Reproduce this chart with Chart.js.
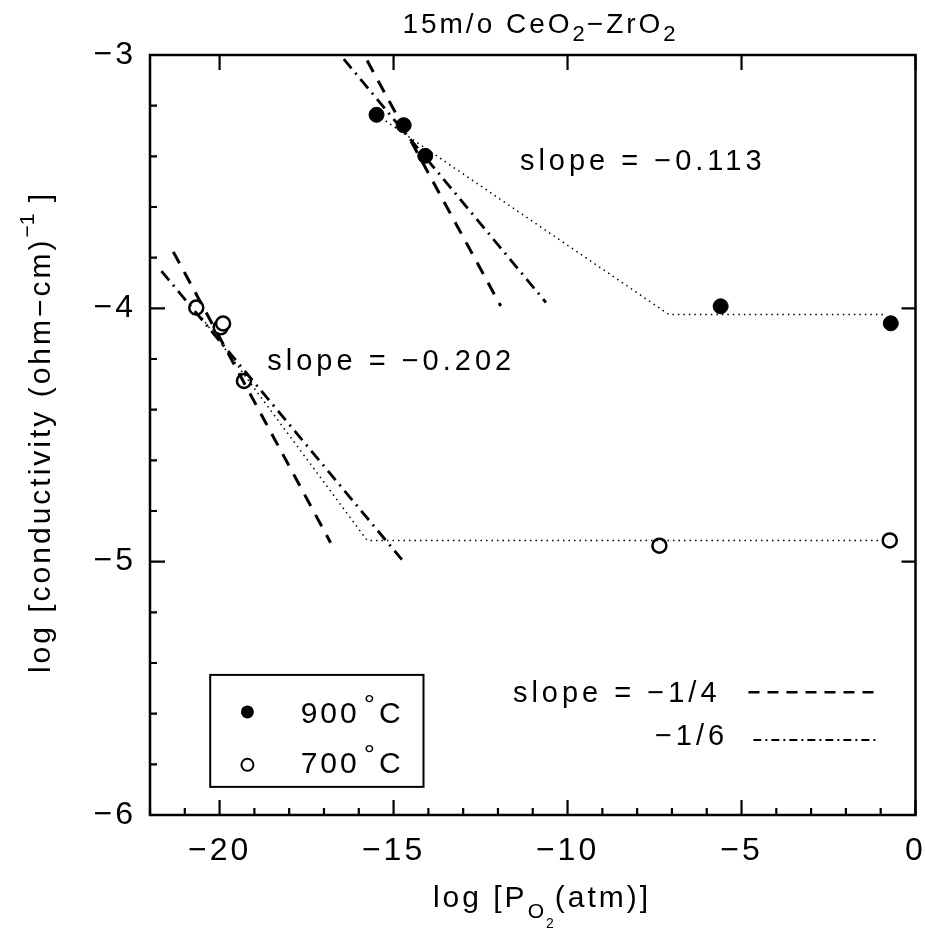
<!DOCTYPE html>
<html>
<head>
<meta charset="utf-8">
<script src="https://cdn.jsdelivr.net/npm/chart.js@4.4.1/dist/chart.umd.min.js"></script>
<style>
  body { margin: 0; background: #fff; }
  canvas { display: block; }
</style>
</head>
<body>
<canvas id="chart" width="925" height="932"></canvas>
<script>
// ---------- DATA ----------
// log P(O2) [atm] and log conductivity
const pO2_900 = [-15.49, -14.71, -14.09, -5.6, -0.71];
const sigma_900 = [-3.236, -3.277, -3.398, -3.992, -4.059];

const pO2_700 = [-20.67, -19.97, -19.9, -19.3, -7.36, -0.74];
const sigma_700 = [-3.997, -4.075, -4.06, -4.287, -4.937, -4.916];

// dotted fitted lines (slope -0.113 / -0.202, then plateau)
const fit900X = [-15.49, -7.09, -0.86];
const fit900Y = [-3.236, -4.024, -4.024];
const fit700X = [-20.6, -15.76, -0.8];
const fit700Y = [-4.02, -4.916, -4.916];

// reference slopes -1/4 (dashed) and -1/6 (dash-dot)
const quarter900X = [-15.76, -11.92];
const quarter900Y = [-3.022, -3.991];
const sixth900X = [-16.43, -10.62];
const sixth900Y = [-3.016, -3.977];
const quarter700X = [-21.33, -16.81];
const quarter700Y = [-3.777, -4.925];
const sixth700X = [-21.67, -14.76];
const sixth700Y = [-3.853, -4.992];

// key sample lines
const keyQuarterX = [-4.8, -1.14];
const keyQuarterY = [-5.515, -5.515];
const keySixthX = [-4.66, -1.14];
const keySixthY = [-5.704, -5.704];

const xMin = -22, xMax = 0;
const yMin = -6, yMax = -3;

const FONT = "'Liberation Sans', 'DejaVu Sans', sans-serif";

function pts(xs, ys) {
    return xs.map((x, i) => ({ x: x, y: ys[i] }));
}

function lineSet(xs, ys, dash, width) {
    return {
        data: pts(xs, ys),
        showLine: true,
        pointRadius: 0,
        borderColor: "#000",
        borderWidth: width,
        borderDash: dash,
        fill: false
    };
}

function minus(v) {
    return v < 0 ? "\u2212" + Math.abs(v) : String(v);
}

// draw a run of text parts (sub/superscripts) starting at x, baseline y
function richWidth(ctx, parts, base) {
    let w = 0;
    parts.forEach(p => {
        ctx.font = (p.size || base) + "px " + FONT;
        ctx.letterSpacing = (p.ls !== undefined ? p.ls : 2) + "px";
        w += ctx.measureText(p.t).width + (p.gap || 0);
    });
    return w;
}

function drawRich(ctx, parts, x, y, base, align) {
    let cx = x;
    if (align === "center") cx = x - richWidth(ctx, parts, base) / 2;
    parts.forEach(p => {
        ctx.font = (p.size || base) + "px " + FONT;
        ctx.letterSpacing = (p.ls !== undefined ? p.ls : 2) + "px";
        ctx.fillText(p.t, cx + (p.gap || 0), y + (p.dy || 0));
        cx += ctx.measureText(p.t).width + (p.gap || 0);
    });
}

// ---------- FRAME, INWARD TICKS, TEXT ----------
const framePlugin = {
    id: "frame",
    beforeDraw(chart) {
        // wider letter spacing for the tick labels, like the plotter font
        chart.ctx.letterSpacing = "3px";
    },
    afterDraw(chart) {
        const ctx = chart.ctx;
        const a = chart.chartArea;
        const xs = chart.scales.x;
        const ys = chart.scales.y;
        const px = v => xs.getPixelForValue(v);
        const py = v => ys.getPixelForValue(v);

        ctx.save();
        ctx.strokeStyle = "#000";
        ctx.fillStyle = "#000";
        ctx.lineWidth = 2.5;
        ctx.strokeRect(a.left, a.top, a.right - a.left, a.bottom - a.top);

        ctx.lineWidth = 2.2;
        ctx.beginPath();
        xs.ticks.forEach(t => {
            const x = px(t.value);
            const major = Math.abs(t.value % 5) < 1e-6;
            ctx.moveTo(x, a.bottom);
            ctx.lineTo(x, a.bottom - (major ? 15 : 7));
            if (major) {
                ctx.moveTo(x, a.top);
                ctx.lineTo(x, a.top + 15);
            }
        });
        ys.ticks.forEach(t => {
            const y = py(t.value);
            const major = Math.abs(t.value - Math.round(t.value)) < 1e-6;
            ctx.moveTo(a.left, y);
            ctx.lineTo(a.left + (major ? 15 : 7), y);
            if (major) {
                ctx.moveTo(a.right, y);
                ctx.lineTo(a.right - 14, y);
            }
        });
        ctx.stroke();

        // title
        ctx.textBaseline = "alphabetic";
        ctx.textAlign = "left";
        drawRich(ctx, [
            { t: "15m/o CeO", ls: 3 },
            { t: "2", size: 22, dy: 8 },
            { t: "\u2212ZrO", ls: 3 },
            { t: "2", size: 22, dy: 8 }
        ], 540, 33, 28, "center");

        // x axis title
        drawRich(ctx, [
            { t: "log [P", ls: 3 },
            { t: "O", size: 21, dy: 11 },
            { t: "2", size: 14, dy: 21, ls: 0 },
            { t: "(atm)]", gap: 1, ls: 3 }
        ], 542, 907, 30, "center");

        // y axis title (rotated)
        ctx.save();
        ctx.translate(50, 432);
        ctx.rotate(-Math.PI / 2);
        drawRich(ctx, [
            { t: "log [conductivity (ohm\u2212cm)", ls: 3 },
            { t: "\u22121", size: 21, dy: -16, ls: 0 },
            { t: " ]", ls: 3 }
        ], 0, 0, 30, "center");
        ctx.restore();

        // in-plot slope notes
        drawRich(ctx, [{ t: "slope = \u22120.113", ls: 4 }], px(-11.37), py(-3.454), 29);
        drawRich(ctx, [{ t: "slope = \u22120.202", ls: 4 }], px(-18.63), py(-4.244), 29);
        drawRich(ctx, [{ t: "slope = \u22121/4", ls: 4 }], px(-11.57), py(-5.554), 29);
        drawRich(ctx, [{ t: "\u22121/6", ls: 4 }], px(-7.49), py(-5.724), 29);

        // legend box
        ctx.lineWidth = 2;
        const bx0 = px(-20.27), bx1 = px(-14.14);
        const by0 = py(-5.447), by1 = py(-5.889);
        ctx.strokeRect(bx0, by0, bx1 - bx0, by1 - by0);

        ctx.beginPath();
        ctx.arc(px(-19.2), py(-5.593), 6.5, 0, Math.PI * 2);
        ctx.fill();
        ctx.beginPath();
        ctx.lineWidth = 2;
        ctx.arc(px(-19.2), py(-5.802), 6, 0, Math.PI * 2);
        ctx.stroke();

        drawRich(ctx, [
            { t: "900", ls: 3 },
            { t: "\u00b0", size: 28, dy: -9, gap: 4 },
            { t: "C", gap: 2 }
        ], px(-17.67), py(-5.637), 30);
        drawRich(ctx, [
            { t: "700", ls: 3 },
            { t: "\u00b0", size: 28, dy: -9, gap: 4 },
            { t: "C", gap: 2 }
        ], px(-17.67), py(-5.835), 30);

        ctx.restore();
    }
};

// ---------- CHART ----------
new Chart(document.getElementById("chart").getContext("2d"), {
    type: "scatter",
    data: {
        datasets: [
            lineSet(fit900X, fit900Y, [1.5, 4], 1.5),
            lineSet(fit700X, fit700Y, [1.5, 4], 1.5),
            lineSet(quarter900X, quarter900Y, [13, 10], 3),
            lineSet(sixth900X, sixth900Y, [12, 6, 2, 6], 2.8),
            lineSet(quarter700X, quarter700Y, [13, 10], 3),
            lineSet(sixth700X, sixth700Y, [12, 6, 2, 6], 2.8),
            lineSet(keyQuarterX, keyQuarterY, [11, 8], 2.5),
            lineSet(keySixthX, keySixthY, [8, 4, 2, 4], 2),
            {
                label: "900\u00b0C",
                data: pts(pO2_900, sigma_900),
                pointRadius: 7.5,
                pointBackgroundColor: "#000",
                pointBorderColor: "#000",
                pointBorderWidth: 1
            },
            {
                label: "700\u00b0C",
                data: pts(pO2_700, sigma_700),
                pointRadius: 7,
                pointBackgroundColor: "#fff",
                pointBorderColor: "#000",
                pointBorderWidth: 2.5
            }
        ]
    },
    options: {
        responsive: false,
        devicePixelRatio: 1,
        animation: false,
        layout: { padding: { top: 55, right: 5, left: 0, bottom: 0 } },
        plugins: {
            legend: { display: false },
            tooltip: { enabled: false },
            title: { display: false }
        },
        scales: {
            x: {
                type: "linear",
                min: xMin,
                max: xMax,
                afterFit(scale) {
                    scale.height = 117;
                    scale.paddingLeft = 0;
                    scale.paddingRight = 0;
                },
                grid: { display: false },
                border: { display: false },
                ticks: {
                    stepSize: 1,
                    autoSkip: false,
                    maxRotation: 0,
                    padding: 9,
                    color: "#000",
                    font: { family: FONT, size: 32 },
                    callback: v => (Math.abs(v % 5) < 1e-6 ? minus(v) : "")
                }
            },
            y: {
                type: "linear",
                min: yMin,
                max: yMax,
                afterFit(scale) {
                    scale.width = 150;
                    scale.paddingTop = 0;
                    scale.paddingBottom = 0;
                },
                grid: { display: false },
                border: { display: false },
                ticks: {
                    stepSize: 0.2,
                    autoSkip: false,
                    padding: 6,
                    color: "#000",
                    font: { family: FONT, size: 32 },
                    callback: v => (Math.abs(v - Math.round(v)) < 1e-6 ? minus(Math.round(v)) : "")
                }
            }
        }
    },
    plugins: [framePlugin]
});
</script>
</body>
</html>
